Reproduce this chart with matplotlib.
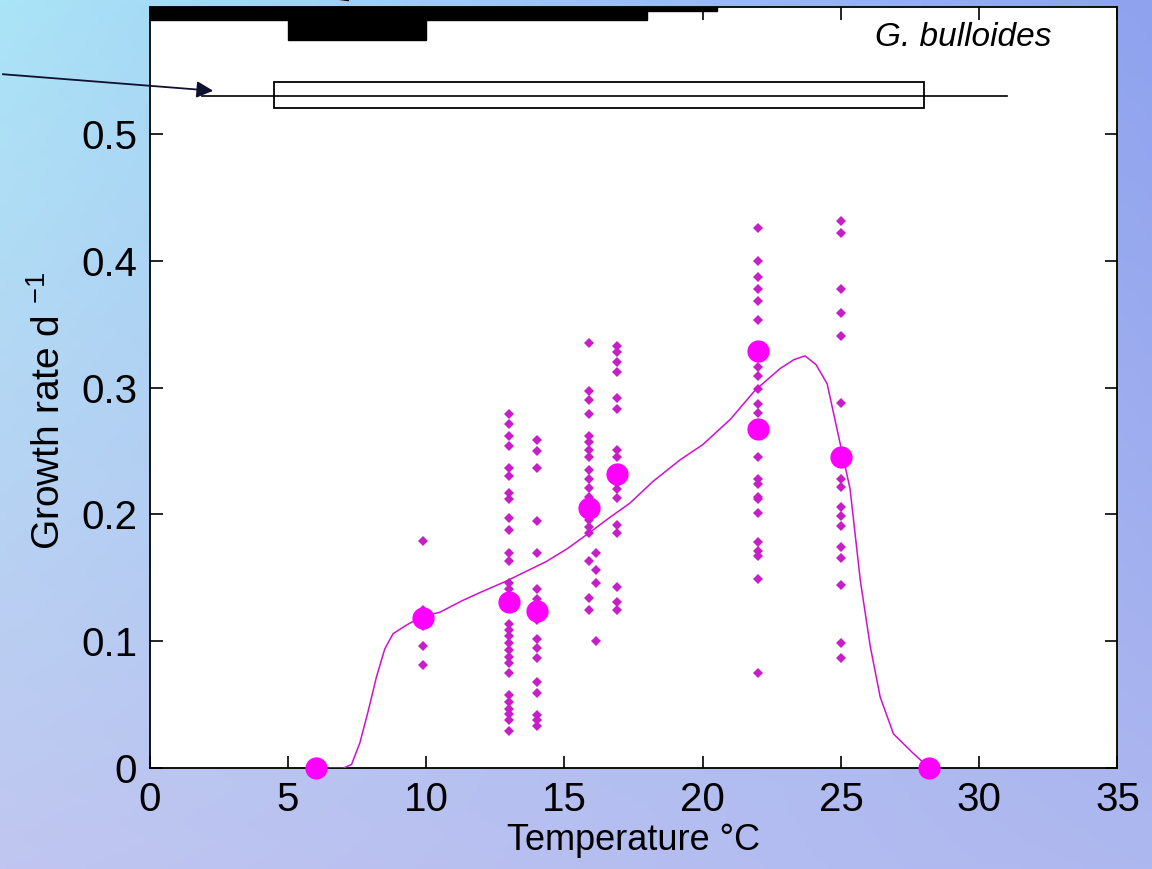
import numpy as np
import matplotlib
matplotlib.use("Agg")
import matplotlib.pyplot as plt
from matplotlib.patches import Rectangle

plt.rcParams['font.family'] = ['Liberation Sans', 'DejaVu Sans']
plt.rcParams['mathtext.fontset'] = 'custom'
plt.rcParams['mathtext.rm'] = 'Liberation Sans'
plt.rcParams['mathtext.it'] = 'Liberation Sans:italic'

# individual growth rates (small points), one list per temperature
temps_small = [9.9, 13, 14, 15.9, 16.15, 16.9, 22, 25]
rates_small = [
    [0.179, 0.125, 0.112, 0.096, 0.081],
    [0.279, 0.271, 0.262, 0.254, 0.237, 0.230, 0.217, 0.212, 0.197, 0.188,
     0.170, 0.163, 0.146, 0.141, 0.114, 0.109, 0.104, 0.099, 0.093, 0.088,
     0.083, 0.075, 0.058, 0.052, 0.047, 0.043, 0.038, 0.029],
    [0.259, 0.250, 0.237, 0.195, 0.170, 0.141, 0.133, 0.117, 0.102, 0.095,
     0.087, 0.068, 0.059, 0.042, 0.038, 0.033],
    [0.335, 0.297, 0.290, 0.279, 0.262, 0.257, 0.251, 0.245, 0.235, 0.228,
     0.221, 0.214, 0.196, 0.190, 0.185, 0.163, 0.134, 0.125],
    [0.170, 0.156, 0.146, 0.100],
    [0.333, 0.328, 0.320, 0.312, 0.292, 0.283, 0.251, 0.245, 0.225, 0.220,
     0.213, 0.192, 0.185, 0.143, 0.131, 0.125],
    [0.426, 0.400, 0.387, 0.378, 0.368, 0.353, 0.316, 0.309, 0.299, 0.287,
     0.280, 0.245, 0.228, 0.224, 0.214, 0.212, 0.201, 0.178, 0.171, 0.167,
     0.149, 0.075],
    [0.431, 0.422, 0.378, 0.359, 0.341, 0.288, 0.228, 0.222, 0.206, 0.199,
     0.191, 0.174, 0.166, 0.144, 0.099, 0.087],
]

# mean growth rates (large points)
temps_mean = [6, 9.9, 13, 14, 15.9, 16.9, 22, 22, 25, 28.2]
rates_mean = [0, 0.118, 0.131, 0.124, 0.205, 0.232, 0.329, 0.267, 0.245, 0]

# fitted curve
curve_t = [6.0, 7.0, 7.3, 7.6, 7.9, 8.2, 8.5, 8.8, 9.3, 9.8, 10.5, 11.3, 12.0,
           12.85, 13.6, 14.35, 15.1, 15.86, 16.6, 17.37, 18.2, 19.18, 20.0,
           21.0, 21.9, 22.8, 23.3, 23.7, 24.1, 24.5, 24.97, 25.33, 25.7,
           26.06, 26.42, 26.9, 27.6, 28.2]
curve_r = [0, 0, 0.003, 0.02, 0.045, 0.072, 0.094, 0.106, 0.113, 0.119, 0.123,
           0.132, 0.139, 0.147, 0.155, 0.163, 0.173, 0.185, 0.197, 0.209,
           0.226, 0.243, 0.255, 0.275, 0.298, 0.315, 0.322, 0.325, 0.318,
           0.303, 0.256, 0.220, 0.148, 0.096, 0.056, 0.027, 0.012, 0.0]

# range box (tolerance range) drawn above the data
box_lo, box_hi = 4.5, 28
whisker_lo, whisker_hi = 1.9, 31

fig = plt.figure(figsize=(11.52, 8.69), dpi=100)

# gradient background
bg = fig.add_axes([0, 0, 1, 1], zorder=-10)
gy, gx = np.mgrid[0:1:200j, 0:1:200j]
tl = np.array([170, 228, 247]) / 255
tr = np.array([142, 162, 238]) / 255
bl = np.array([192, 198, 240]) / 255
br = np.array([174, 184, 240]) / 255
img = ((1 - gx)[..., None] * (1 - gy)[..., None] * tl + gx[..., None] * (1 - gy)[..., None] * tr
       + (1 - gx)[..., None] * gy[..., None] * bl + gx[..., None] * gy[..., None] * br)
bg.imshow(img, aspect='auto', extent=[0, 1, 0, 1], origin='upper')
bg.axis('off')

ax = fig.add_axes([0.130, 0.116, 0.840, 0.876])
ax.set_facecolor('white')

for t, rs in zip(temps_small, rates_small):
    ax.plot([t] * len(rs), rs, 'D', color='#c81ec8', markersize=5.5,
            markeredgewidth=0, clip_on=False, zorder=3)
ax.plot(curve_t, curve_r, '-', color='#d010d0', lw=1.1, zorder=4)
ax.plot(temps_mean, rates_mean, 'o', color='#ff00ff', markersize=16,
        markeredgewidth=0, clip_on=False, zorder=5)

# top annotation bars
ax.add_patch(Rectangle((0, 0.590), 18, 0.010, color='black', clip_on=False))
ax.add_patch(Rectangle((5, 0.574), 5, 0.016, color='black', clip_on=False))
ax.add_patch(Rectangle((18, 0.597), 2.5, 0.003, color='black', clip_on=False))
ax.plot([whisker_lo, whisker_hi], [0.530, 0.530], color='black', lw=1.2)
ax.add_patch(Rectangle((box_lo, 0.5205), box_hi - box_lo, 0.0203,
                       facecolor='white', edgecolor='black', lw=1.3, zorder=3))
ax.plot([box_lo, box_hi], [0.530, 0.530], color='black', lw=1.2, zorder=4)
ax.text(32.6, 0.576, 'G. bulloides', style='italic', fontsize=24,
        ha='right', va='center')

ax.set_xlim(0, 35)
ax.set_ylim(0, 0.6)
ax.set_xticks(np.arange(0, 36, 5))
ax.set_yticks([0, 0.1, 0.2, 0.3, 0.4, 0.5])
ax.set_yticklabels(['0', '0.1', '0.2', '0.3', '0.4', '0.5'])
ax.tick_params(direction='in', length=9, width=1.2, top=True, right=True,
               labelsize=29, pad=9)
for s in ax.spines.values():
    s.set_linewidth(1.3)
ax.set_xlabel('Temperature °C', fontsize=26, labelpad=3)
ax.set_ylabel('Growth rate d $^{-1}$', fontsize=28, labelpad=8)
ax.yaxis.set_label_coords(-0.085, 0.47)

# arrows coming from outside the plot
ax.annotate('', xy=(216 / 1152, 1 - 91 / 869), xycoords='figure fraction',
            xytext=(0, 1 - 74 / 869), textcoords='figure fraction',
            arrowprops=dict(arrowstyle='-|>', color='#101030', lw=1.3,
                            mutation_scale=25))
ax.annotate('', xy=(352 / 1152, 1 - 3 / 869), xycoords='figure fraction',
            xytext=(330 / 1152, 1 + 12 / 869), textcoords='figure fraction',
            arrowprops=dict(arrowstyle='-|>', color='black', lw=1.3,
                            mutation_scale=22))

fig.savefig('out.png', dpi=100)
